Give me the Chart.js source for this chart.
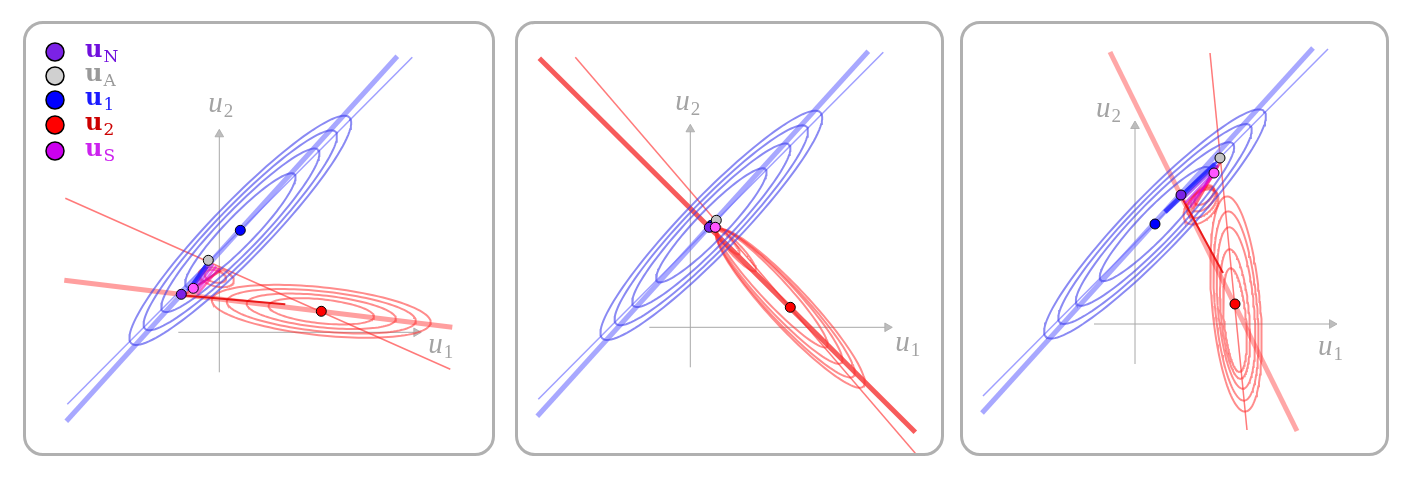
<!DOCTYPE html>
<html>
<head>
<meta charset="utf-8">
<script src="https://cdn.jsdelivr.net/npm/chart.js@4.4.1/dist/chart.umd.min.js"></script>
<style>
    body { margin: 0; background: #fff; width: 1411px; height: 480px; position: relative; overflow: hidden; }
    canvas { position: absolute; }
    .box { position: absolute; box-sizing: border-box; border: 3px solid #b0b0b0; border-radius: 20px; pointer-events: none; }
</style>
</head>
<body>
<canvas id="c1" width="474" height="438" style="left:22px;top:20px"></canvas>
<canvas id="c2" width="431" height="438" style="left:514px;top:20px"></canvas>
<canvas id="c3" width="431" height="438" style="left:959px;top:20px"></canvas>
<div class="box" style="left:23px;top:21px;width:472px;height:435px"></div>
<div class="box" style="left:515px;top:21px;width:429px;height:435px"></div>
<div class="box" style="left:960px;top:21px;width:429px;height:435px"></div>
<script>
// values, in axis units (origin where u1 and u2 axes cross)
const uN = [[-38, 38], [19, 100], [46, 129]];
const uA = [[-11, 72], [26, 107], [85, 166]];
const uOne = [[21, 102], [21, 102], [20, 100]];
const uTwo = [[102, 21], [100, 20], [100, 20]];
const uS = [[-26, 44], [25, 100], [79, 151]];

const axisX = [-41, 197];
const axisY = [-40, 198];

const blueThick = [[-153, -89], [178, 276]];
const blueThin = [[-152, -72], [193, 275]];
const redThick = [[[-155, 52], [233, 5]], [[-151, 269], [225, -105]], [[-25, 272], [162, -107]]];
const redThin = [[[-154, 134], [231, -37]], [[-115, 270], [225, -126]], [[75, 271], [112, -106]]];

// player 1 level sets (same in every panel), centred on u1
const blueMajor = [157, 137, 112, 78];
const blueMinor = [28, 24, 20, 15];
const blueAngle = 46;

// player 2 level sets: cx, cy, semi major, semi minor, angle
const redLevels1 = [[102, 21, 110, 24, -6], [102, 21, 95, 20, -6], [102, 21, 75, 16, -6], [102, 21, 53, 12, -6],
    [-3, 55, 18, 9, -15], [-4, 56, 11, 6, -15]];
const redLevels2 = [[100, 19, 107, 20, -47], [95, 24, 100, 18, -47], [89, 31, 91, 16, -47], [82, 39, 80, 13, -47],
    [46, 77, 28, 6, -47], [38, 85, 16, 4, -47]];
const redLevels3 = [[101, 20, 108, 24, 95], [101, 18, 95, 21, 95], [101, 16, 81, 18, 95], [100, 10, 65, 14, 95], [100, 4, 52, 11, 95],
    [66, 117, 21, 13, 45], [67, 121, 18, 11, 45], [68, 125, 15, 9, 45], [69, 129, 12, 7, 45]];

// learning paths: x0, y0, x1, y1
const bluePath = [[[-31, 41], [-13, 66]], [], [[30, 112], [80, 160]]];
const mixPaths = [
    [[-30, 42, -12, 70], [-28, 41, -9, 69], [-26, 40, -6, 68], [-24, 39, -3, 66], [-22, 38, 0, 64], [-36, 37, 2, 62]],
    [],
    [[44, 127, 84, 164], [47, 124, 83, 159], [50, 121, 81, 154], [53, 119, 80, 150], [56, 117, 83, 158], [58, 115, 86, 163]]
];
const redPath = [[[-38, 37], [66, 28]], [], [[46, 128], [88, 51]]];

const legendNames = ['N', 'A', '1', '2', 'S'];

// layout and style
const canvasBox = [[22, 20, 474, 438], [514, 20, 431, 438], [959, 20, 431, 438]];
const origin = [[219.3, 332.3], [690.3, 327.3], [1135, 324]];
const labelU1Pos = [[209, -21], [205, -24], [183, -31]];
const labelU2Pos = [[-11, 220], [-15, 217], [-39, 207]];
const mixColors = ['rgba(40,40,255,0.75)', 'rgba(120,20,240,0.6)', 'rgba(190,0,230,0.6)', 'rgba(230,0,220,0.6)', 'rgba(255,0,150,0.6)', 'rgba(255,0,40,0.6)'];
const legendFill = ['#7b22e6', '#d0d0d0', '#0000ff', '#ff0000', '#cc00ee'];
const legendText = ['#7010dd', '#999999', '#1a1aff', '#cc0000', '#cc22ee'];
const legendRows = [52, 76, 100, 125, 151];
const redThickColor = ['rgba(255,80,80,0.55)', 'rgba(245,50,50,0.8)', 'rgba(255,80,80,0.5)'];

function pt(p) {
    return {x: p[0], y: p[1]};
}

function ellipse(cx, cy, a, b, deg) {
    const t = deg * Math.PI / 180;
    const pts = [];
    for (let i = 0; i <= 120; i++) {
        const s = i / 120 * 2 * Math.PI;
        const ex = a * Math.cos(s), ey = b * Math.sin(s);
        pts.push({x: cx + ex * Math.cos(t) - ey * Math.sin(t), y: cy + ex * Math.sin(t) + ey * Math.cos(t)});
    }
    return pts;
}

function line(data, color, width, order) {
    return {data: data, showLine: true, borderColor: color, borderWidth: width, pointRadius: 0,
        fill: false, tension: 0, order: order, borderCapStyle: 'butt'};
}

function dot(p, color, order) {
    return {data: [pt(p)], showLine: false, pointRadius: 5, pointBackgroundColor: color,
        pointBorderColor: '#000', pointBorderWidth: 1, order: order};
}

function drawSub(ctx, x, y, main, sub, mainFont, subFont, color, drop) {
    ctx.fillStyle = color;
    ctx.font = mainFont;
    ctx.fillText(main, x, y);
    const w = ctx.measureText(main).width;
    ctx.font = subFont;
    ctx.fillText(sub, x + w + 1, y + drop);
}

function textPlugin(k) {
    return {
        id: 'text' + k,
        beforeDatasetsDraw(chart) {
            const ctx = chart.ctx, sx = chart.scales.x, sy = chart.scales.y;
            ctx.save();
            ctx.textBaseline = 'alphabetic';
            drawSub(ctx, sx.getPixelForValue(labelU1Pos[k][0]), sy.getPixelForValue(labelU1Pos[k][1]), 'u', '1',
                'italic 29px "Liberation Serif"', '19px "Liberation Serif"', '#a3a3a3', 5);
            drawSub(ctx, sx.getPixelForValue(labelU2Pos[k][0]), sy.getPixelForValue(labelU2Pos[k][1]), 'u', '2',
                'italic 29px "Liberation Serif"', '19px "Liberation Serif"', '#a3a3a3', 5);
            ctx.restore();
        },
        afterDatasetsDraw(chart) {
            if (k !== 0) return;
            const ctx = chart.ctx;
            const ox = canvasBox[0][0], oy = canvasBox[0][1];
            ctx.save();
            legendNames.forEach((n, i) => {
                ctx.beginPath();
                ctx.arc(55 - ox, legendRows[i] - oy, 9, 0, 2 * Math.PI);
                ctx.fillStyle = legendFill[i];
                ctx.fill();
                ctx.lineWidth = 1.5;
                ctx.strokeStyle = '#000';
                ctx.stroke();
                drawSub(ctx, 85 - ox, legendRows[i] + 5 - oy, 'u', n,
                    'bold 24px "DejaVu Serif"', '17px "DejaVu Serif"', legendText[i], 5);
            });
            ctx.restore();
        }
    };
}

function buildPanel(k) {
    const ds = [];
    const [left, top, w, h] = canvasBox[k];
    const [ox, oy] = origin[k];

    // axes with arrow heads
    ds.push({data: [pt([axisX[0], 0]), pt([axisX[1], 0])], showLine: true, borderColor: '#a8a8a8', borderWidth: 1,
        pointRadius: [0, 5], pointStyle: 'triangle', pointRotation: [0, 90], pointBackgroundColor: '#bdbdbd',
        pointBorderColor: '#a8a8a8', pointBorderWidth: 0.8, order: 40});
    ds.push({data: [pt([0, axisY[0]]), pt([0, axisY[1]])], showLine: true, borderColor: '#a8a8a8', borderWidth: 1,
        pointRadius: [0, 5], pointStyle: 'triangle', pointRotation: [0, 0], pointBackgroundColor: '#bdbdbd',
        pointBorderColor: '#a8a8a8', pointBorderWidth: 0.8, order: 40});

    // best response lines
    ds.push(line(blueThick.map(pt), 'rgba(110,110,255,0.6)', 5, 30));
    ds.push(line(blueThin.map(pt), 'rgba(80,80,255,0.55)', 1.5, 30));
    ds.push(line(redThick[k].map(pt), redThickColor[k], 5, 30));
    ds.push(line(redThin[k].map(pt), 'rgba(255,50,50,0.65)', 1.5, 30));

    // level sets
    blueMajor.forEach((a, i) => {
        ds.push(line(ellipse(uOne[k][0], uOne[k][1], a, blueMinor[i], blueAngle), 'rgba(60,60,235,0.6)', 2, 20));
    });
    [redLevels1, redLevels2, redLevels3][k].forEach(e => {
        ds.push(line(ellipse(e[0], e[1], e[2], e[3], e[4]), 'rgba(255,45,45,0.55)', 2, 20));
    });

    // paths
    if (bluePath[k].length) ds.push(line(bluePath[k].map(pt), 'rgba(30,30,255,0.8)', 5, 12));
    mixPaths[k].forEach((s, i) => {
        ds.push(line([pt([s[0], s[1]]), pt([s[2], s[3]])], mixColors[i], 2.5, 11));
    });
    if (redPath[k].length) ds.push(line(redPath[k].map(pt), 'rgba(230,0,0,0.85)', 2, 12));

    // points
    ds.push(dot(uOne[k], '#0000ff', 6));
    ds.push(dot(uA[k], '#c4c4c4', 5));
    ds.push(dot(uN[k], '#7b22e6', 4));
    ds.push(dot(uS[k], '#ff55ff', 3));
    ds.push(dot(uTwo[k], '#ff0000', 2));

    new Chart(document.getElementById('c' + (k + 1)), {
        type: 'scatter',
        data: {datasets: ds},
        options: {
            responsive: false,
            maintainAspectRatio: false,
            animation: false,
            events: [],
            layout: {padding: 0, autoPadding: false},
            plugins: {legend: {display: false}, tooltip: {enabled: false}},
            scales: {
                x: {type: 'linear', display: false, min: left - ox, max: left + w - ox},
                y: {type: 'linear', display: false, min: oy - (top + h), max: oy - top}
            }
        },
        plugins: [textPlugin(k)]
    });
}

document.addEventListener('DOMContentLoaded', function() {
    [0, 1, 2].forEach(buildPanel);
}, false);
</script>
</body>
</html>
